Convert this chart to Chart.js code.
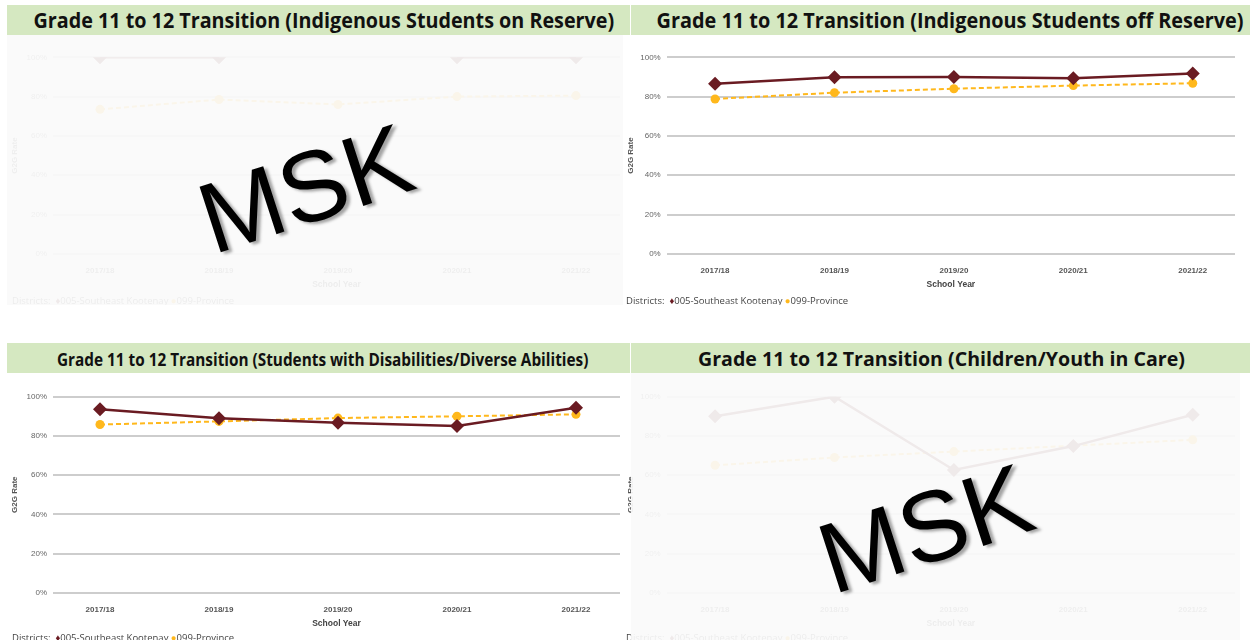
<!DOCTYPE html>
<html>
<head>
<meta charset="utf-8">
<script src="https://cdn.jsdelivr.net/npm/chart.js@4/dist/chart.umd.min.js"></script>
<style>
  body { margin: 0; width: 1250px; height: 640px; background: #fff; position: relative; overflow: hidden; font-family: "Open Sans", sans-serif; }
  .banner { position: absolute; background: #d5e8c1; }
  .title { position: absolute; white-space: nowrap; font-weight: 700; color: #111; transform-origin: center center; }
  .panel { position: absolute; overflow: hidden; }
  .fade { position: absolute; background: rgba(250,250,250,0.93); }
  .legend { position: absolute; font-size: 9.5px; color: #444; white-space: nowrap; }
  .msk { position: absolute; font-family: "Liberation Sans", Arial, sans-serif; font-size: 100px; color: #000; white-space: nowrap; text-shadow: 3px 3px 3px rgba(0,0,0,0.35); }
</style>
</head>
<body>

<div class="banner" style="left:7px;top:5px;width:623px;height:30px"></div>
<div class="banner" style="left:631px;top:5px;width:619px;height:30px"></div>
<div class="banner" style="left:7px;top:343px;width:623px;height:30px"></div>
<div class="banner" style="left:631px;top:343px;width:619px;height:30px"></div>

<span class="title" data-cx="323.5" data-cy="20" data-w="581" style="font-size:21px">Grade 11 to 12 Transition (Indigenous Students on Reserve)</span>
<span class="title" data-cx="949.5" data-cy="20" data-w="587" style="font-size:21px">Grade 11 to 12 Transition (Indigenous Students off Reserve)</span>
<span class="title" data-cx="322.5" data-cy="359" data-w="531" style="font-size:17px">Grade 11 to 12 Transition (Students with Disabilities/Diverse Abilities)</span>
<span class="title" data-cx="941.5" data-cy="358" data-w="487" style="font-size:20px">Grade 11 to 12 Transition (Children/Youth in Care)</span>

<div class="panel" style="left:0;top:35px;width:630px;height:270px"><canvas id="c1"></canvas>
  <div class="legend" style="left:12px;top:259px">Districts: &nbsp;<span style="color:#6a1b22">&#9830;</span>005-Southeast Kootenay <span style="color:#ffb81c">&#9679;</span>099-Province</div>
</div>
<div class="fade" style="left:7px;top:35px;width:616px;height:270px"></div>

<div class="panel" style="left:620px;top:35px;width:630px;height:270px"><canvas id="c2"></canvas>
  <div class="legend" style="left:6px;top:259px">Districts: &nbsp;<span style="color:#6a1b22">&#9830;</span>005-Southeast Kootenay <span style="color:#ffb81c">&#9679;</span>099-Province</div>
</div>

<div class="panel" style="left:0;top:373px;width:630px;height:267px"><canvas id="c3"></canvas>
  <div class="legend" style="left:12px;top:258px">Districts: &nbsp;<span style="color:#6a1b22">&#9830;</span>005-Southeast Kootenay <span style="color:#ffb81c">&#9679;</span>099-Province</div>
</div>

<div class="panel" style="left:620px;top:373px;width:630px;height:267px"><canvas id="c4"></canvas>
  <div class="legend" style="left:6px;top:258px">Districts: &nbsp;<span style="color:#6a1b22">&#9830;</span>005-Southeast Kootenay <span style="color:#ffb81c">&#9679;</span>099-Province</div>
</div>
<div class="fade" style="left:631px;top:373px;width:609px;height:267px"></div>

<div class="msk" id="m1">MSK</div>
<div class="msk" id="m2">MSK</div>

<script>
// data
var categories = ['2017/18', '2018/19', '2019/20', '2020/21', '2021/22'];
var yTicks = [0, 20, 40, 60, 80, 100];

var onReserveKootenay = [100, 100, null, 100, 100];
var onReserveProvince = [73.5, 78.5, 76, 80, 80.5];

var offReserveKootenay = [86.6, 89.8, 90, 89.3, 91.8];
var offReserveProvince = [78.8, 82, 84, 85.6, 86.8];

var disabilitiesKootenay = [93.6, 89, 86.7, 85, 94.4];
var disabilitiesProvince = [85.8, 87.4, 89.1, 90, 91];

var inCareKootenay = [90, 100, 62.6, 74.8, 90.8];
var inCareProvince = [65, 69, 72, 75, 78];

var KOOT = '#6a1b22';
var PROV = '#ffb81c';

function points(vals) {
    return vals.map(function (v, i) { return { x: i, y: v }; });
}

function makeChart(id, koot, prov, g) {
    var ctx = document.getElementById(id);
    return new Chart(ctx, {
        type: 'line',
        data: {
            datasets: [{
                label: '005-Southeast Kootenay',
                data: points(koot),
                borderColor: KOOT,
                backgroundColor: KOOT,
                borderWidth: 2.5,
                pointStyle: 'rectRot',
                pointRadius: 7,
                pointBorderWidth: 0,
                spanGaps: false
            }, {
                label: '099-Province',
                data: points(prov),
                borderColor: PROV,
                backgroundColor: PROV,
                borderWidth: 2,
                borderDash: [5, 3],
                pointStyle: 'circle',
                pointRadius: 4.5,
                pointBorderWidth: 0
            }]
        },
        options: {
            responsive: true,
            maintainAspectRatio: false,
            animation: false,
            layout: { padding: { top: g.top, right: g.right, bottom: g.bottom, left: g.left } },
            plugins: { legend: { display: false }, tooltip: { enabled: false } },
            scales: {
                x: {
                    type: 'linear',
                    min: g.xMin,
                    max: g.xMax,
                    grid: { display: false, drawTicks: false },
                    border: { display: false },
                    afterBuildTicks: function (s) {
                        s.ticks = categories.map(function (c, i) { return { value: i }; });
                    },
                    ticks: {
                        callback: function (v) { return categories[v]; },
                        font: { size: 8, weight: '600' },
                        color: '#555',
                        padding: 12,
                        maxRotation: 0,
                        autoSkip: false
                    },
                    title: { display: true, text: 'School Year', font: { size: 8.5, weight: '600' }, color: '#444', padding: 0 },
                    afterFit: function (s) { s.height = 36; }
                },
                y: {
                    min: 0,
                    max: 100,
                    afterBuildTicks: function (s) {
                        s.ticks = yTicks.map(function (v) { return { value: v }; });
                    },
                    ticks: {
                        callback: function (v) { return v + '%'; },
                        font: { size: 8 },
                        color: '#666',
                        padding: 6
                    },
                    grid: { color: '#cdcdcd', lineWidth: 2, drawTicks: false },
                    border: { display: false },
                    title: { display: true, text: 'G2G Rate', font: { size: 8, weight: '600' }, color: '#555', padding: 2 },
                    afterFit: function (s) { s.width = g.yWidth; }
                }
            }
        }
    });
}

makeChart('c1', onReserveKootenay, onReserveProvince,
    { top: 22.3, bottom: 15.2, left: 8, right: 10, yWidth: 45, xMin: -0.395, xMax: 4.37 });
makeChart('c2', offReserveKootenay, offReserveProvince,
    { top: 22.3, bottom: 15.2, left: 4, right: 15, yWidth: 42.7, xMin: -0.405, xMax: 4.354 });
makeChart('c3', disabilitiesKootenay, disabilitiesProvince,
    { top: 23.7, bottom: 11.3, left: 8, right: 10, yWidth: 45, xMin: -0.395, xMax: 4.37 });
makeChart('c4', inCareKootenay, inCareProvince,
    { top: 23.7, bottom: 11.3, left: 4, right: 15, yWidth: 42.7, xMin: -0.405, xMax: 4.354 });

// titles: centre and squeeze to the banner text width
document.querySelectorAll('.title').forEach(function (el) {
    var w = el.offsetWidth, h = el.offsetHeight;
    var sx = parseFloat(el.dataset.w) / w;
    el.style.left = (parseFloat(el.dataset.cx) - w / 2) + 'px';
    el.style.top = (parseFloat(el.dataset.cy) - h / 2) + 'px';
    el.style.transform = 'scaleX(' + sx + ')';
});

function placeMsk(id, cx, cy) {
    var el = document.getElementById(id);
    el.style.left = (cx - el.offsetWidth / 2) + 'px';
    el.style.top = (cy - el.offsetHeight / 2) + 'px';
    el.style.transform = 'rotate(-18deg)';
}
placeMsk('m1', 305, 188);
placeMsk('m2', 925, 528);
</script>
</body>
</html>
